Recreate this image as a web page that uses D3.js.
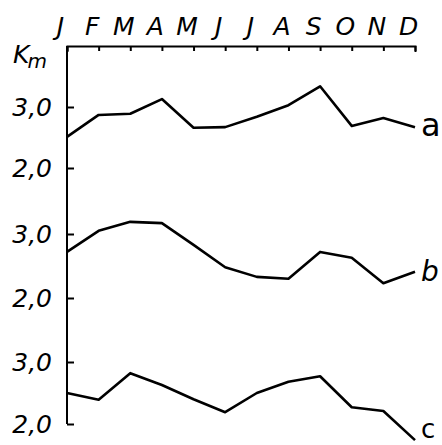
<!DOCTYPE html>
<html>
<head>
<meta charset="utf-8">
<script src="https://cdn.jsdelivr.net/npm/d3@7"></script>
<style>
  html, body { margin: 0; padding: 0; background: #fff; }
  svg { display: block; }
  text { font-family: "DejaVu Sans", sans-serif; fill: #000; }
</style>
</head>
<body>
<svg id="chart" width="442" height="445"></svg>
<script>
// ---- data ----
const months = ["J1","F","M1","A1","M2","J2","J3","A2","S","O","N","D"];
const monthLabels = ["J","F","M","A","M","J","J","A","S","O","N","D"];
const seriesNames = ["a","b","c"];
const seriesA = [2.51, 2.87, 2.89, 3.13, 2.66, 2.67, 2.84, 3.03, 3.34, 2.69, 2.82, 2.67];
const seriesB = [2.72, 3.05, 3.19, 3.17, 2.83, 2.48, 2.33, 2.30, 2.72, 2.63, 2.23, 2.41];
const seriesC = [2.50, 2.39, 2.82, 2.63, 2.40, 2.19, 2.50, 2.68, 2.77, 2.27, 2.21, 1.74];
const yTicks = [2, 3];
const yAxisTitle = "K";
const yAxisSub = "m";

// ---- layout ----
const svg = d3.select("#chart");
const mLeft = 67, mRight = 415, mTop = 46, mBottom = 424;
const x = d3.scalePoint().domain(months).range([mLeft, mRight]);
const panels = [
  { name: seriesNames[0], values: seriesA, y: d3.scaleLinear().domain([2, 3]).range([168, 107]), dy: 9, size: 32 },
  { name: seriesNames[1], values: seriesB, y: d3.scaleLinear().domain([2, 3]).range([298, 234]), dy: 9, size: 28 },
  { name: seriesNames[2], values: seriesC, y: d3.scaleLinear().domain([2, 3]).range([424, 362]), dy: -2, size: 26 }
];

// top month axis, ticks pointing down
const topAxis = d3.axisTop(x)
  .tickSizeInner(-5).tickSizeOuter(-6).tickPadding(11)
  .tickFormat((d, i) => monthLabels[i]);
const gTop = svg.append("g").attr("transform", `translate(0,${mTop})`).call(topAxis);
gTop.select(".domain").attr("stroke", "#000").attr("stroke-width", 2).attr("fill", "none");
gTop.selectAll(".tick line").attr("stroke", "#000").attr("stroke-width", 2);
gTop.selectAll(".tick text")
  .attr("dx", -7)
  .attr("font-size", 25)
  .attr("font-style", "italic")
  .attr("font-family", "DejaVu Sans, sans-serif")
  .attr("fill", "#000");

// left vertical axis line
svg.append("line")
  .attr("x1", mLeft).attr("x2", mLeft)
  .attr("y1", mTop).attr("y2", mBottom)
  .attr("stroke", "#000").attr("stroke-width", 2);

// per-panel y axes
panels.forEach(p => {
  const ax = d3.axisLeft(p.y)
    .tickValues(yTicks)
    .tickSizeInner(-7).tickSizeOuter(0).tickPadding(15)
    .tickFormat(d => d.toFixed(1).replace(".", ","));
  const g = svg.append("g").attr("transform", `translate(${mLeft},0)`).call(ax);
  g.select(".domain").remove();
  g.selectAll(".tick line").attr("stroke", "#000").attr("stroke-width", 2);
  g.selectAll(".tick text")
    .attr("font-size", 25)
    .attr("font-style", "italic")
    .attr("font-family", "DejaVu Sans, sans-serif")
    .attr("fill", "#000");

  const line = d3.line().x((d, i) => x(months[i])).y(d => p.y(d));
  svg.append("path")
    .datum(p.values)
    .attr("d", line)
    .attr("fill", "none")
    .attr("stroke", "#000")
    .attr("stroke-width", 2.6)
    .attr("stroke-linejoin", "round");

  const last = p.values[p.values.length - 1];
  svg.append("text")
    .attr("x", mRight + 6)
    .attr("y", p.y(last) + p.dy)
    .attr("font-size", p.size)
    .attr("font-style", p.name === "b" ? "italic" : "normal")
    .text(p.name);
});

// y axis title K_m
const title = svg.append("text")
  .attr("x", 13).attr("y", 63)
  .attr("font-size", 25)
  .attr("font-style", "italic");
title.append("tspan").text(yAxisTitle);
title.append("tspan").attr("font-size", 20).attr("dy", 5).attr("dx", -2).text(yAxisSub);
</script>
</body>
</html>
